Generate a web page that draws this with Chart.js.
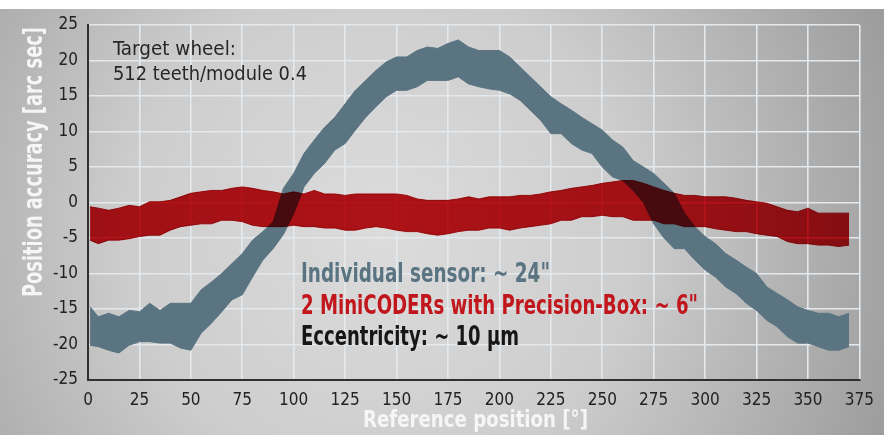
<!DOCTYPE html>
<html>
<head>
<meta charset="utf-8">
<script src="https://cdn.jsdelivr.net/npm/chart.js@4.4.1/dist/chart.umd.min.js"></script>
<style>
  html, body { margin: 0; padding: 0; background: #fff; }
  #wrap { width: 884px; height: 435px; position: relative; }
</style>
</head>
<body>
<div id="wrap"><canvas id="accuracyChart"></canvas></div>
<script>
// reference position in degrees
const positions = [1, 5, 10, 15, 20, 25, 30, 35, 40, 45, 50, 55, 60, 65, 70, 75, 80, 85, 90, 95,
  100, 105, 110, 115, 120, 125, 130, 135, 140, 145, 150, 155, 160, 165, 170, 175, 180, 185, 190, 195,
  200, 205, 210, 215, 220, 225, 230, 235, 240, 245, 250, 255, 260, 265, 270, 275, 280, 285, 290, 295,
  300, 305, 310, 315, 320, 325, 330, 335, 340, 345, 350, 355, 360, 365, 370];

// individual sensor: upper / lower edge of the noise band (arc sec)
const sensorHigh = [-14.7, -16.1, -15.6, -16.1, -15.2, -15.4, -14.2, -15.2, -14.2, -14.2, -14.2, -12.3, -11.2, -10.0, -8.6, -7.2, -5.3, -4.1, -2.7, 2.0,
  4.1, 6.9, 8.8, 10.6, 12.0, 13.9, 15.8, 17.2, 18.6, 19.8, 20.5, 20.5, 21.4, 21.9, 21.7, 22.4, 22.9, 21.9, 21.4, 21.4,
  21.4, 20.5, 19.1, 17.7, 16.3, 14.9, 13.9, 13.0, 12.0, 11.1, 10.2, 8.8, 7.8, 5.9, 5.0, 4.1, 2.7, 1.3, -1.5, -3.4,
  -4.8, -5.8, -7.2, -8.1, -9.1, -10.0, -11.9, -12.8, -13.7, -14.7, -15.2, -15.6, -15.6, -16.1, -15.6];
const sensorLow = [-20.1, -20.3, -20.8, -21.2, -20.1, -19.6, -19.6, -19.8, -19.8, -20.5, -20.8, -18.4, -17.0, -15.4, -13.7, -13.0, -10.5, -8.1, -6.5, -4.5,
  -1.6, 2.2, 4.1, 5.5, 7.4, 8.3, 10.2, 12.0, 13.5, 14.9, 15.8, 15.8, 16.3, 17.2, 17.2, 17.2, 17.7, 16.7, 16.3, 16.0,
  15.8, 15.3, 14.4, 13.0, 11.6, 9.7, 9.7, 8.3, 7.4, 6.9, 5.0, 3.6, 3.1, 1.7, 0.0, -3.0, -5.0, -6.5, -6.5, -8.1,
  -9.5, -10.5, -11.9, -12.8, -14.2, -15.2, -16.6, -17.5, -18.9, -19.8, -19.8, -20.3, -20.8, -20.8, -20.3];

// 2 MiniCODERs with Precision-Box: upper / lower edge of the band
const dualHigh = [-0.6, -0.8, -1.1, -0.8, -0.4, -0.6, 0.1, 0.1, 0.3, 0.8, 1.3, 1.5, 1.7, 1.7, 2.0, 2.2, 2.0, 1.7, 1.5, 1.2,
  1.5, 1.2, 1.7, 1.2, 1.2, 1.0, 1.2, 1.2, 1.2, 1.2, 1.2, 1.0, 0.5, 0.3, 0.3, 0.3, 0.5, 0.8, 0.5, 0.8,
  0.8, 0.8, 1.0, 1.0, 1.2, 1.5, 1.7, 2.0, 2.2, 2.4, 2.7, 2.9, 3.1, 3.1, 2.7, 2.2, 1.7, 1.3, 1.0, 1.0,
  0.8, 0.8, 0.8, 0.6, 0.3, 0.1, -0.1, -0.6, -1.1, -1.3, -0.8, -1.5, -1.5, -1.5, -1.5];
const dualLow = [-5.3, -5.8, -5.3, -5.3, -5.1, -4.8, -4.6, -4.6, -3.9, -3.4, -3.2, -3.0, -3.0, -2.5, -2.5, -2.7, -3.2, -3.4, -3.4, -3.4,
  -3.2, -3.4, -3.4, -3.6, -3.6, -3.9, -3.9, -3.6, -3.4, -3.6, -3.9, -4.1, -4.1, -4.4, -4.6, -4.4, -4.1, -3.9, -3.9, -3.6,
  -3.6, -3.9, -3.6, -3.4, -3.2, -3.0, -2.5, -2.5, -2.0, -2.0, -1.8, -2.0, -2.0, -2.5, -2.5, -2.5, -3.0, -3.0, -3.4, -3.4,
  -3.4, -3.7, -3.9, -4.1, -4.1, -4.4, -4.6, -4.8, -5.5, -5.8, -5.8, -6.0, -6.0, -6.2, -6.0];

const xTicks = [0, 25, 50, 75, 100, 125, 150, 175, 200, 225, 250, 275, 300, 325, 350, 375];
const yTicks = [-25, -20, -15, -10, -5, 0, 5, 10, 15, 20, 25];

const narrow = "'Liberation Sans Narrow', 'DejaVu Sans Condensed', 'Liberation Sans', sans-serif";
const steel = '#5a7482';
const red = '#c8141a';

function toPoints(values) {
  return positions.map((p, i) => ({ x: p, y: values[i] }));
}

// draw text squeezed / stretched to a given width
function fitText(ctx, text, x, y, width, font, color, angle) {
  ctx.save();
  ctx.font = font;
  ctx.fillStyle = color;
  ctx.textAlign = 'left';
  ctx.textBaseline = 'alphabetic';
  const m = ctx.measureText(text).width;
  ctx.translate(x, y);
  if (angle) ctx.rotate(angle);
  ctx.scale(width / m, 1);
  ctx.fillText(text, 0, 0);
  ctx.restore();
}

const backdrop = {
  id: 'backdrop',
  beforeDraw(chart) {
    const ctx = chart.ctx;
    const w = chart.width, h = chart.height;
    ctx.save();
    ctx.fillStyle = '#ffffff';
    ctx.fillRect(0, 0, w, h);
    const g = ctx.createRadialGradient(380, 230, 0, 380, 230, 560);
    g.addColorStop(0, '#dcdcdc');
    g.addColorStop(0.45, '#cdcdcd');
    g.addColorStop(1, '#9a9a9a');
    ctx.fillStyle = g;
    ctx.fillRect(0, 9, w, h - 9);
    ctx.restore();
  }
};

// red band is laid over the grey one like a multiply layer
const blend = {
  id: 'blend',
  afterDatasetDraw(chart, args) {
    if (args.index === 2) chart.ctx.globalCompositeOperation = 'multiply';
  },
  afterDatasetsDraw(chart) {
    chart.ctx.globalCompositeOperation = 'source-over';
  }
};

const labels = {
  id: 'labels',
  afterDatasetsDraw(chart) {
    const ctx = chart.ctx;
    fitText(ctx, 'Target wheel:', 113, 55, 123, "19px " + narrow, '#262626');
    fitText(ctx, '512 teeth/module 0.4', 113, 80, 194, "19px " + narrow, '#262626');
    fitText(ctx, 'Individual sensor: ~ 24"', 301, 282, 249, "bold 27px " + narrow, steel);
    fitText(ctx, '2 MiniCODERs with Precision-Box: ~ 6"', 301, 314, 397, "bold 27px " + narrow, '#c0161c');
    fitText(ctx, 'Eccentricity: ~ 10 µm', 301, 345, 218, "bold 27px " + narrow, '#161616');
    fitText(ctx, 'Position accuracy [arc sec]', 42, 297, 270, "bold 27px " + narrow, '#f6f6f6', -Math.PI / 2);
    fitText(ctx, 'Reference position [°]', 363, 427, 225, "bold 23px " + narrow, '#f6f6f6');
  }
};

const ctx = document.getElementById('accuracyChart').getContext('2d');

new Chart(ctx, {
  type: 'line',
  data: {
    datasets: [
      {
        label: '2 MiniCODERs with Precision-Box (high)',
        data: toPoints(dualHigh),
        borderColor: red,
        backgroundColor: red,
        borderWidth: 1,
        pointRadius: 0,
        fill: '+1'
      },
      {
        label: '2 MiniCODERs with Precision-Box (low)',
        data: toPoints(dualLow),
        borderColor: red,
        borderWidth: 1,
        pointRadius: 0,
        fill: false
      },
      {
        label: 'Individual sensor (high)',
        data: toPoints(sensorHigh),
        borderColor: steel,
        backgroundColor: steel,
        borderWidth: 1,
        pointRadius: 0,
        fill: '+1'
      },
      {
        label: 'Individual sensor (low)',
        data: toPoints(sensorLow),
        borderColor: steel,
        borderWidth: 1,
        pointRadius: 0,
        fill: false
      }
    ]
  },
  options: {
    animation: false,
    responsive: true,
    maintainAspectRatio: false,
    layout: {
      padding: { top: 25, right: 22, left: 0, bottom: 0 }
    },
    plugins: {
      legend: { display: false },
      tooltip: { enabled: false }
    },
    scales: {
      x: {
        type: 'linear',
        min: 0,
        max: 375,
        afterBuildTicks: (scale) => { scale.ticks = xTicks.map(v => ({ value: v })); },
        afterFit: (scale) => { scale.height = 55; },
        grid: { color: '#e4e9ee', lineWidth: 1.6, drawTicks: false },
        border: { display: true, color: '#303030', width: 2 },
        ticks: {
          color: '#222',
          padding: 10,
          maxRotation: 0,
          autoSkip: false,
          font: { family: narrow, size: 17 }
        }
      },
      y: {
        min: -25,
        max: 25,
        afterBuildTicks: (scale) => { scale.ticks = yTicks.map(v => ({ value: v })); },
        afterFit: (scale) => { scale.width = 88; },
        grid: { color: '#e4e9ee', lineWidth: 1.6, drawTicks: false },
        border: { display: true, color: '#303030', width: 2 },
        ticks: {
          color: '#222',
          padding: 10,
          font: { family: narrow, size: 17 }
        }
      }
    }
  },
  plugins: [backdrop, blend, labels]
});
</script>
</body>
</html>
